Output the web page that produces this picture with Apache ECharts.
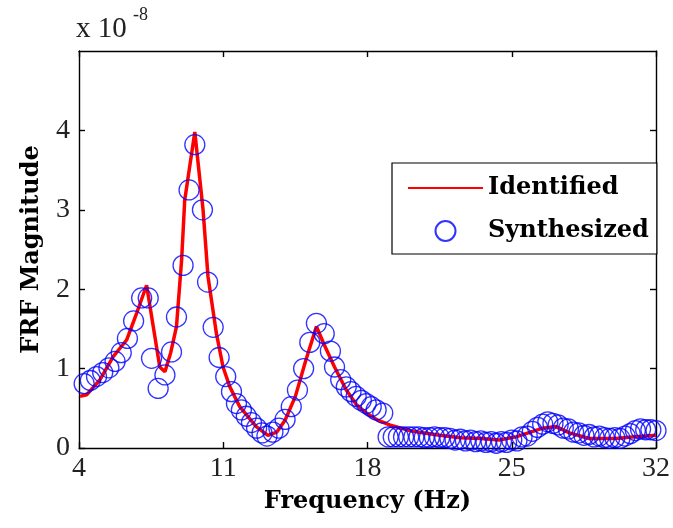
<!DOCTYPE html>
<html>
<head>
<meta charset="utf-8">
<script src="https://cdn.jsdelivr.net/npm/echarts@6/dist/echarts.min.js"></script>
<style>html,body{margin:0;padding:0;background:#fff;}#c{width:673px;height:528px;}</style>
</head>
<body>
<div id="c"></div>
<script>
// Identified (red line), values in units of 1e-8
const identifiedFreq = [4.05, 4.37, 5.02, 5.66, 6.31, 6.8, 7.28, 7.92, 8.17, 8.45, 8.73, 8.98, 9.13, 9.62, 10.02, 10.26, 10.67, 10.99, 11.32, 11.8, 12.6, 13.17, 13.6, 14.0, 14.5, 15.0, 15.52, 15.9, 16.4, 16.97, 17.45, 17.94, 18.5, 19.07, 20.2, 21.5, 22.5, 23.5, 24.4, 25.2, 25.8, 26.5, 27.15, 27.8, 28.76, 30.05, 30.85, 32];
const identifiedMag = [0.65, 0.67, 0.86, 1.15, 1.36, 1.70, 2.05, 1.02, 0.96, 1.2, 1.53, 2.37, 3.12, 3.98, 3.0, 2.16, 1.44, 1.02, 0.77, 0.52, 0.27, 0.16, 0.2, 0.35, 0.65, 1.1, 1.53, 1.3, 1.02, 0.73, 0.55, 0.44, 0.35, 0.29, 0.21, 0.16, 0.13, 0.12, 0.10, 0.14, 0.19, 0.25, 0.27, 0.19, 0.12, 0.12, 0.14, 0.16];

// Synthesized (blue circles)
const synthFreq = [4.25, 4.55, 4.85, 5.15, 5.45, 5.75, 6.05, 6.35, 6.65, 7.04, 7.36, 7.52, 7.84, 8.17, 8.49, 8.73, 9.05, 9.34, 9.62, 9.99, 10.24, 10.51, 10.80, 11.12, 11.40, 11.64, 11.88, 12.12, 12.37, 12.62, 12.88, 13.12, 13.41, 13.7, 14.0, 14.3, 14.6, 14.9, 15.2, 15.52, 15.9, 16.2, 16.4, 16.7, 16.97, 17.2, 17.45, 17.7, 17.94, 18.18, 18.42, 18.74,
  19.0, 19.25, 19.5, 19.75, 20.0, 20.25, 20.5, 20.75, 21.0, 21.25, 21.5, 21.75, 22.0, 22.25, 22.5, 22.75, 23.0, 23.25, 23.5, 23.75, 24.0, 24.25, 24.5, 24.75, 25.0, 25.25, 25.5, 25.75, 26.0, 26.25, 26.5, 26.75, 27.0, 27.25, 27.5, 27.75, 28.0, 28.25, 28.5, 28.75, 29.0, 29.25, 29.5, 29.75, 30.0, 30.25, 30.5, 30.75, 31.0, 31.25, 31.5, 31.75, 32.0];
const synthMag = [0.81, 0.85, 0.90, 0.95, 1.01, 1.09, 1.2, 1.38, 1.6, 1.89, 1.89, 1.13, 0.75, 0.92, 1.21, 1.65, 2.30, 3.25, 3.82, 3.0, 2.09, 1.52, 1.14, 0.90, 0.71, 0.56, 0.48, 0.40, 0.32, 0.25, 0.19, 0.15, 0.20, 0.25, 0.36, 0.52, 0.73, 1.0, 1.33, 1.57, 1.44, 1.22, 1.02, 0.86, 0.77, 0.71, 0.65, 0.60, 0.56, 0.52, 0.48, 0.44,
  0.14, 0.14, 0.14, 0.14, 0.14, 0.14, 0.14, 0.13, 0.13, 0.14, 0.13, 0.13, 0.12, 0.10, 0.11, 0.09, 0.10, 0.08, 0.09, 0.07, 0.08, 0.06, 0.08, 0.07, 0.10, 0.09, 0.14, 0.15, 0.21, 0.26, 0.30, 0.33, 0.31, 0.29, 0.25, 0.24, 0.20, 0.19, 0.16, 0.17, 0.14, 0.15, 0.13, 0.12, 0.13, 0.12, 0.15, 0.18, 0.22, 0.24, 0.23, 0.23, 0.22];

const xTicks = [4, 11, 18, 25, 32];
const yTicks = [0, 1, 2, 3, 4];
const seriesNames = ['Identified', 'Synthesized'];

const chart = echarts.init(document.getElementById('c'), null, {renderer: 'canvas'});
const tickFont = {fontFamily: 'Liberation Serif', fontSize: 28, color: '#222'};
const boldFont = {fontFamily: 'DejaVu Serif', fontWeight: 'bold', fontSize: 24, color: '#000'};
const lineStyle = {color: '#000', width: 1.4};

const option = {
  animation: false,
  backgroundColor: '#fff',
  grid: {left: 79, right: 16, top: 51, bottom: 80, containLabel: false},
  legend: {
    left: 392, top: 163, orient: 'vertical',
    padding: [13, 8, 11, 15],
    itemWidth: 75, itemHeight: 20, itemGap: 19,
    borderColor: '#000', borderWidth: 1.2, backgroundColor: '#fff',
    textStyle: {fontFamily: 'DejaVu Serif', fontWeight: 'bold', fontSize: 24, color: '#000'},
    data: [
      {name: seriesNames[0], itemStyle: {opacity: 0}},
      {name: seriesNames[1]}
    ]
  },
  xAxis: [{
    type: 'value', min: 4, max: 32,
    name: 'Frequency (Hz)', nameLocation: 'middle', nameGap: 42, nameTextStyle: boldFont,
    axisLine: {show: true, onZero: false, lineStyle: lineStyle},
    axisTick: {show: true, inside: true, length: 6, customValues: xTicks, lineStyle: lineStyle},
    axisLabel: {customValues: xTicks, margin: 7, ...tickFont},
    splitLine: {show: false}
  }, {
    type: 'value', min: 4, max: 32, position: 'top',
    axisLine: {show: true, onZero: false, lineStyle: lineStyle},
    axisTick: {show: true, inside: true, length: 6, customValues: xTicks, lineStyle: lineStyle},
    axisLabel: {show: false}, splitLine: {show: false}
  }],
  yAxis: [{
    type: 'value', min: 0, max: 5,
    name: 'FRF Magnitude', nameLocation: 'middle', nameGap: 35, nameTextStyle: boldFont,
    axisLine: {show: true, onZero: false, lineStyle: lineStyle},
    axisTick: {show: true, inside: true, length: 6, customValues: yTicks, lineStyle: lineStyle},
    axisLabel: {customValues: yTicks, margin: 9, ...tickFont},
    splitLine: {show: false}
  }, {
    type: 'value', min: 0, max: 5, position: 'right',
    axisLine: {show: true, onZero: false, lineStyle: lineStyle},
    axisTick: {show: true, inside: true, length: 6, customValues: yTicks, lineStyle: lineStyle},
    axisLabel: {show: false}, splitLine: {show: false}
  }],
  graphic: [
    {type: 'text', left: 76, top: 15, style: {text: 'x 10', fontFamily: 'Liberation Serif', fontSize: 29, fill: '#222'}},
    {type: 'text', left: 133, top: 6, style: {text: '-8', fontFamily: 'Liberation Serif', fontSize: 18, fill: '#222'}}
  ],
  series: [{
    name: seriesNames[0], type: 'line', xAxisIndex: 0, yAxisIndex: 0,
    data: identifiedFreq.map((f, i) => [f, identifiedMag[i]]),
    showSymbol: false, symbol: 'none', smooth: false,
    lineStyle: {color: '#ff0000', width: 3.5},
    itemStyle: {color: '#ff0000'}, z: 2
  }, {
    name: seriesNames[1], type: 'scatter', xAxisIndex: 0, yAxisIndex: 0,
    data: synthFreq.map((f, i) => [f, synthMag[i]]),
    symbol: 'circle', symbolSize: 20,
    itemStyle: {color: 'rgba(0,0,0,0)', borderColor: '#0000ff', borderWidth: 1.3},
    z: 3
  }]
};
chart.setOption(option);
</script>
</body>
</html>
